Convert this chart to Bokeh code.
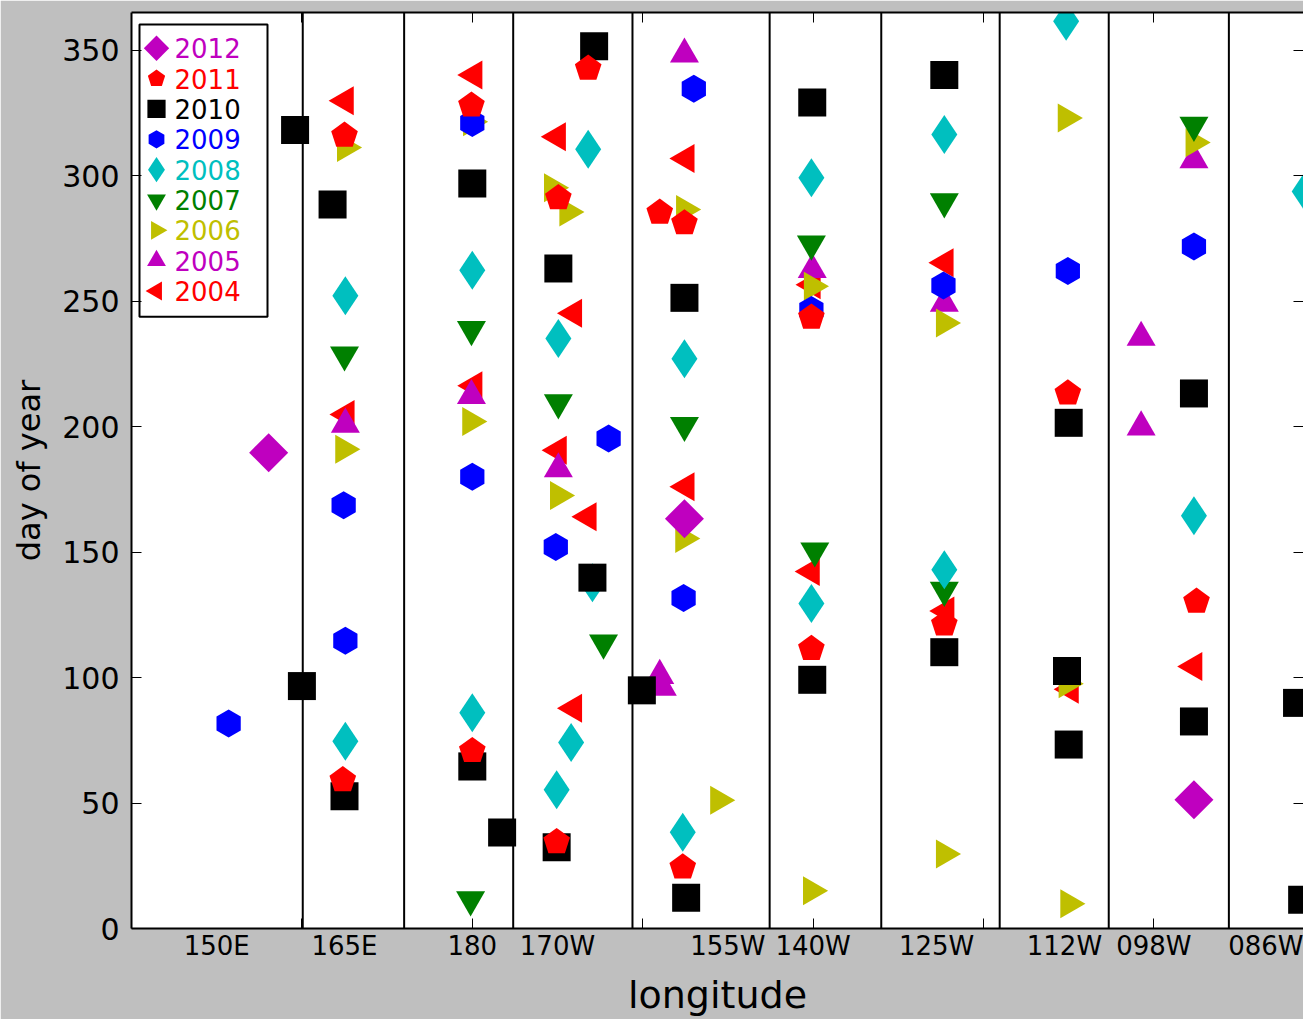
import math
from bokeh.plotting import figure
from bokeh.models import Range1d, FixedTicker, LinearAxis, Span
from bokeh.embed import file_html
from bokeh.resources import INLINE
from bokeh.core.properties import value

# ---------------- data (longitude in degrees east, day of year) ----------------
years = ["2012", "2011", "2010", "2009", "2008", "2007", "2006", "2005", "2004"]

lon_2004 = [165.1, 165.2, 180.2, 180.2, 190.0, 191.9, 190.1, 193.6, 191.9, 205.1, 205.1,
            219.9, 219.8, 235.5, 235.6, 250.2, 264.7]
day_2004 = [329.8, 204.8, 340.1, 216.3, 315.5, 245.2, 190.6, 164.1, 87.8, 306.8, 176.0,
            256.5, 142.3, 265.3, 126.5, 95.3, 104.4]

lon_2005 = [165.1, 179.9, 190.1, 202.0, 202.3, 204.9, 219.9, 235.4, 258.5, 258.5, 264.7]
day_2005 = [200.9, 212.3, 183.1, 100.8, 96.1, 348.4, 262.5, 249.1, 235.5, 199.8, 306.3]

lon_2006 = [165.1, 164.9, 179.9, 179.8, 189.4, 191.2, 190.1, 204.9, 204.8, 208.9, 219.9,
            219.8, 235.4, 235.4, 249.7, 249.8, 250.0, 264.7]
day_2006 = [311.2, 191.0, 321.5, 202.0, 295.2, 285.5, 172.5, 286.5, 155.4, 51.1, 255.9,
            15.0, 241.3, 29.7, 323.0, 97.5, 9.9, 313.2]

lon_2007 = [165.0, 179.9, 179.8, 190.1, 195.4, 204.9, 219.8, 220.2, 235.4, 235.4, 264.7]
day_2007 = [228.6, 238.7, 11.5, 209.5, 113.8, 200.5, 272.8, 150.5, 289.6, 134.8, 320.1]

lon_2008 = [165.1, 165.1, 180.0, 180.0, 193.6, 190.1, 194.1, 191.6, 189.9, 204.9, 204.7,
            219.8, 219.8, 235.4, 235.4, 249.7, 264.7, 277.7]
day_2008 = [252.1, 74.6, 262.3, 86.0, 310.5, 235.1, 137.8, 74.1, 55.3, 227.0, 38.4,
            299.2, 129.5, 316.4, 143.0, 361.5, 164.5, 293.7]

lon_2009 = [151.4, 164.9, 165.1, 180.0, 180.0, 196.0, 189.8, 206.0, 204.8, 219.8, 235.3,
            249.9, 264.7]
day_2009 = [81.7, 168.7, 114.7, 321.0, 180.0, 195.3, 152.0, 334.6, 131.7, 246.5, 256.2,
            262.0, 271.8]

lon_2010 = [159.2, 160.0, 163.6, 165.0, 180.0, 180.0, 183.5, 194.3, 190.1, 194.1, 189.9,
            199.9, 204.9, 205.1, 219.9, 219.9, 235.4, 235.4, 250.0, 249.8, 250.0, 264.7,
            264.7, 276.8, 277.4]
day_2010 = [318.2, 96.6, 288.5, 52.7, 296.9, 64.6, 38.3, 351.6, 263.0, 139.8, 32.4,
            94.9, 251.3, 12.3, 329.1, 99.1, 340.1, 110.1, 201.5, 102.6, 73.3, 213.2,
            82.5, 89.9, 11.5]

lon_2011 = [165.0, 164.8, 179.9, 180.0, 193.6, 190.1, 189.9, 202.0, 204.9, 204.7, 219.8,
            219.8, 235.4, 249.9, 265.0]
day_2011 = [316.0, 59.2, 328.0, 70.8, 342.7, 291.1, 34.5, 285.3, 281.1, 24.4, 243.5,
            111.5, 121.2, 213.3, 130.3]

lon_2012 = [156.1, 204.9, 264.7]
day_2012 = [189.6, 163.3, 51.3]

region_boundaries = [160.1, 172.0, 184.8, 198.8, 214.9, 228.0, 241.9, 254.7, 268.8]

x_tick_pos = [150, 165, 180, 190, 210, 220, 234.5, 249.5, 260, 275]
x_tick_labels = ["150E", "165E", "180", "170W", "155W", "140W", "125W", "112W", "098W", "086W"]
x_minor_pos = [160, 180, 200, 220, 240, 260]
y_ticks = [0, 50, 100, 150, 200, 250, 300, 350]

series = {
    "2004": (lon_2004, day_2004),
    "2005": (lon_2005, day_2005),
    "2006": (lon_2006, day_2006),
    "2007": (lon_2007, day_2007),
    "2008": (lon_2008, day_2008),
    "2009": (lon_2009, day_2009),
    "2010": (lon_2010, day_2010),
    "2011": (lon_2011, day_2011),
    "2012": (lon_2012, day_2012),
}

# ---------------- styles ----------------
MAG, RED, BLK, BLU, CYA, GRN, YEL = "#bf00bf", "#ff0000", "#000000", "#0000ff", "#00bfbf", "#008000", "#bfbf00"
style = {
    "2012": dict(kind="scatter", marker="square", angle=math.pi / 4, size=27.6, color=MAG),
    "2011": dict(kind="pentagon", radius=14, color=RED),
    "2010": dict(kind="scatter", marker="square", angle=0.0, size=28, color=BLK),
    "2009": dict(kind="scatter", marker="hex", angle=math.pi / 6, size=28, color=BLU),
    "2008": dict(kind="scatter", marker="diamond", angle=0.0, size=39, color=CYA),
    "2007": dict(kind="scatter", marker="inverted_triangle", angle=0.0, size=29, color=GRN),
    "2006": dict(kind="scatter", marker="triangle", angle=-math.pi / 2, size=29, color=YEL),
    "2005": dict(kind="scatter", marker="triangle", angle=0.0, size=29, color=MAG),
    "2004": dict(kind="scatter", marker="triangle", angle=math.pi / 2, size=29, color=RED),
}

FONT = "DejaVu Sans"
W, H = 1303, 1019
LEFT, RIGHT, TOP, BOTTOM = 131, 0, 12, 86
FW, FH = W - LEFT - RIGHT, H - TOP - BOTTOM
PX_PER_DEG = 8.52
Y_MAX = 365

p = figure(width=W, height=H,
           x_range=Range1d(140, 140 + FW / PX_PER_DEG), y_range=Range1d(0, Y_MAX),
           output_backend="svg", toolbar_location=None,
           min_border_left=LEFT, min_border_right=RIGHT,
           min_border_top=TOP, min_border_bottom=BOTTOM)
p.grid.visible = False
p.background_fill_color = "white"
p.border_fill_color = "#bfbfbf"
p.outline_line_color = None

# pixel ranges of the frame, used for the legend
p.extra_x_ranges = {"px": Range1d(0, FW)}
p.extra_y_ranges = {"py": Range1d(FH, 0)}

for b in region_boundaries:
    p.add_layout(Span(location=b, dimension="height", line_color="black",
                      line_width=2, level="underlay"))


def draw(x, y, st, scale=1.0, legend=False, **kw):
    if st["kind"] == "pentagon":
        r = st["radius"] * scale
        if legend:
            sx, sy = 1.0, -1.0
        else:
            sx, sy = 1.0 / PX_PER_DEG, Y_MAX / FH
        xs, ys = [], []
        for cx, cy in zip(x, y):
            xs.append([cx + r * math.cos(math.pi / 2 + 2 * math.pi * k / 5) * sx for k in range(5)])
            ys.append([cy + r * math.sin(math.pi / 2 + 2 * math.pi * k / 5) * sy for k in range(5)])
        p.patches(xs=xs, ys=ys, fill_color=st["color"], line_color=None, **kw)
    else:
        p.scatter(x=x, y=y, marker=st["marker"], size=st["size"] * scale,
                  angle=st["angle"], fill_color=st["color"], line_color=None, **kw)


for yr in ["2004", "2005", "2006", "2007", "2008", "2009", "2010", "2011", "2012"]:
    lon, day = series[yr]
    draw(lon, day, style[yr])

# ---------------- legend (drawn in frame pixel units) ----------------
p.quad(left=[8], right=[136], top=[12], bottom=[306], x_range_name="px", y_range_name="py",
       fill_color="white", line_color="black", line_width=2)
row_y = [36 + 30.5 * i for i in range(len(years))]
for i, yr in enumerate(years):
    draw([25], [row_y[i]], style[yr], scale=0.65, legend=True,
         x_range_name="px", y_range_name="py")
p.text(x=[43] * len(years), y=row_y, text=years,
       text_color=[style[yr]["color"] for yr in years],
       x_range_name="px", y_range_name="py",
       text_font=value(FONT), text_font_size="26px", text_baseline="middle", text_align="left")

# ---------------- axes ----------------
xa = p.below[0]
xa.ticker = FixedTicker(ticks=x_tick_pos, minor_ticks=x_minor_pos)
xa.major_label_overrides = {k: v for k, v in zip(x_tick_pos, x_tick_labels)}
xa.major_tick_in = 0
xa.major_tick_out = 0
xa.minor_tick_in = 10
xa.minor_tick_out = 0
xa.minor_tick_line_color = "black"
xa.axis_line_color = "black"
xa.axis_line_width = 2
xa.major_label_text_font = FONT
xa.major_label_text_font_size = "26px"
xa.major_label_text_color = "black"
xa.major_label_standoff = 2
xa.axis_label = "longitude"
xa.axis_label_text_font = FONT
xa.axis_label_text_font_size = "38px"
xa.axis_label_text_font_style = "normal"
xa.axis_label_text_color = "black"
xa.axis_label_standoff = 9

ya = p.left[0]
ya.ticker = FixedTicker(ticks=y_ticks)
ya.major_tick_in = 10
ya.major_tick_out = 0
ya.major_tick_line_color = "black"
ya.minor_tick_line_color = None
ya.axis_line_color = "black"
ya.axis_line_width = 2
ya.major_label_text_font = FONT
ya.major_label_text_font_size = "30px"
ya.major_label_text_color = "black"
ya.major_label_standoff = 12
ya.axis_label = "day of year"
ya.axis_label_text_font = FONT
ya.axis_label_text_font_size = "32px"
ya.axis_label_text_font_style = "normal"
ya.axis_label_text_color = "black"
ya.axis_label_standoff = 11

top_axis = LinearAxis(ticker=FixedTicker(ticks=x_minor_pos),
                      major_label_overrides={k: "" for k in x_minor_pos},
                      major_label_text_font_size="1px", major_label_standoff=0,
                      major_tick_in=10, major_tick_out=0, major_tick_line_color="black",
                      minor_tick_line_color=None,
                      axis_line_color="black", axis_line_width=2)
p.add_layout(top_axis, "above")

right_axis = LinearAxis(ticker=FixedTicker(ticks=y_ticks),
                        major_label_overrides={k: "" for k in y_ticks},
                        major_label_text_font_size="1px", major_label_standoff=0,
                        major_tick_in=10, major_tick_out=0, major_tick_line_color="black",
                        minor_tick_line_color=None, axis_line_color=None)
p.add_layout(right_axis, "right")

open("out.html", "w").write(file_html(p, INLINE))
